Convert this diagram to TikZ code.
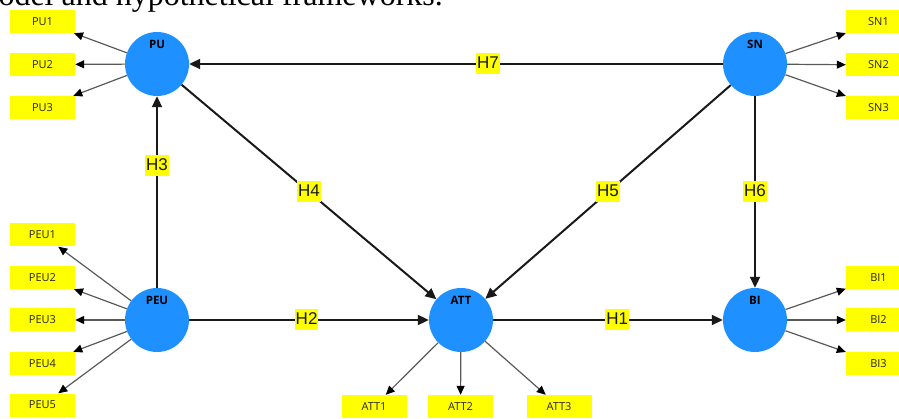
\documentclass[tikz,border=0pt]{standalone}
\usepackage{fontspec}
\setmainfont{Liberation Serif}
\newfontfamily\indfont{Open Sans}
\newfontfamily\hypfont{Liberation Sans}
\usepackage{tikz}
\usetikzlibrary{arrows.meta}
\definecolor{lvblue}{RGB}{30,144,255}
\definecolor{indyellow}{RGB}{255,255,0}

\begin{document}
\begin{tikzpicture}[
    x=1pt, y=-1pt,
    latent/.style={circle, fill=lvblue, minimum size=64pt, inner sep=0pt},
    lname/.style={font=\indfont\bfseries\fontsize{11.5}{11.5}\selectfont, anchor=center, yshift=-12.5pt},
    ind/.style={fill=indyellow, minimum width=65pt, minimum height=23pt, inner sep=0pt,
                font=\indfont\fontsize{11}{11}\selectfont, text=black!85},
    hyp/.style={fill=indyellow, font=\hypfont\fontsize{17}{17}\selectfont, inner xsep=1pt,
                inner ysep=2.5pt, text height=13pt, text depth=3pt},
    hyparr/.style={-{Triangle[length=11pt,width=10pt]}, line width=2pt, color=black!90},
    indarr/.style={-{Triangle[length=9pt,width=8pt,color=black]}, line width=1.2pt, color=black!65},
]
\useasboundingbox (0,0) rectangle (899,419);
\clip (0,0) rectangle (899,419);

% ── Caption (cut off at the top) ──────────────────────
\node[font=\fontsize{32}{32}\selectfont, anchor=base east, inner sep=0pt] (caption)
    at (443,6) {odel and hypothetical frameworks.};

% ── Latent variables ──────────────────────────────────
\node[latent, label={[lname]north:PU}]  (PU)  at (157,64)  {};
\node[latent, label={[lname]north:SN}]  (SN)  at (755,64)  {};
\node[latent, label={[lname]north:PEU}] (PEU) at (157,320) {};
\node[latent, label={[lname]north:ATT}] (ATT) at (461,320) {};
\node[latent, label={[lname]north:BI}]  (BI)  at (755,320) {};

% ── Indicators: left ──────────────────────────────────
\node[ind] (PU1) at (42.5,21.5)  {PU1};
\node[ind] (PU2) at (42.5,64.5)  {PU2};
\node[ind] (PU3) at (42.5,107.5) {PU3};
\node[ind] (PEU1) at (42.5,235)   {PEU1};
\node[ind] (PEU2) at (42.5,277.5) {PEU2};
\node[ind] (PEU3) at (42.5,320)   {PEU3};
\node[ind] (PEU4) at (42.5,363.5) {PEU4};
\node[ind] (PEU5) at (42.5,405)   {PEU5};

% ── Indicators: right ─────────────────────────────────
\node[ind] (SN1) at (878.5,22)    {SN1};
\node[ind] (SN2) at (878.5,65)    {SN2};
\node[ind] (SN3) at (878.5,107.5) {SN3};
\node[ind] (BI1) at (878.5,277.5) {BI1};
\node[ind] (BI2) at (878.5,320)   {BI2};
\node[ind] (BI3) at (878.5,363.5) {BI3};

% ── Indicators: bottom ────────────────────────────────
\node[ind] (ATT1) at (374,406.5)   {ATT1};
\node[ind] (ATT2) at (460.5,406.5) {ATT2};
\node[ind] (ATT3) at (559,406.5)   {ATT3};

% ── Outer loadings ────────────────────────────────────
\draw[indarr] (PU) -- (PU1);
\draw[indarr] (PU) -- (PU2);
\draw[indarr] (PU) -- (PU3);
\draw[indarr] (PEU) -- (PEU1);
\draw[indarr] (PEU) -- (PEU2);
\draw[indarr] (PEU) -- (PEU3);
\draw[indarr] (PEU) -- (PEU4);
\draw[indarr] (PEU) -- (PEU5);
\draw[indarr] (SN) -- (SN1);
\draw[indarr] (SN) -- (SN2);
\draw[indarr] (SN) -- (SN3);
\draw[indarr] (BI) -- (BI1);
\draw[indarr] (BI) -- (BI2);
\draw[indarr] (BI) -- (BI3);
\draw[indarr] (ATT) -- (ATT1);
\draw[indarr] (ATT) -- (ATT2);
\draw[indarr] (ATT) -- (ATT3);

% ── Hypotheses (inner model) ──────────────────────────
\draw[hyparr] (ATT) -- node[hyp, pos=.54] (h1) {H1} (BI);
\draw[hyparr] (PEU) -- node[hyp, pos=.49] (h2) {H2} (ATT);
\draw[hyparr] (PEU) -- node[hyp, pos=.64] (h3) {H3} (PU);
\draw[hyparr] (PU)  -- node[hyp, pos=.5]  (h4) {H4} (ATT);
\draw[hyparr] (SN)  -- node[hyp, pos=.5]  (h5) {H5} (ATT);
\draw[hyparr] (SN)  -- node[hyp, pos=.5]  (h6) {H6} (BI);
\draw[hyparr] (SN)  -- node[hyp, pos=.44] (h7) {H7} (PU);

\end{tikzpicture}
\end{document}
